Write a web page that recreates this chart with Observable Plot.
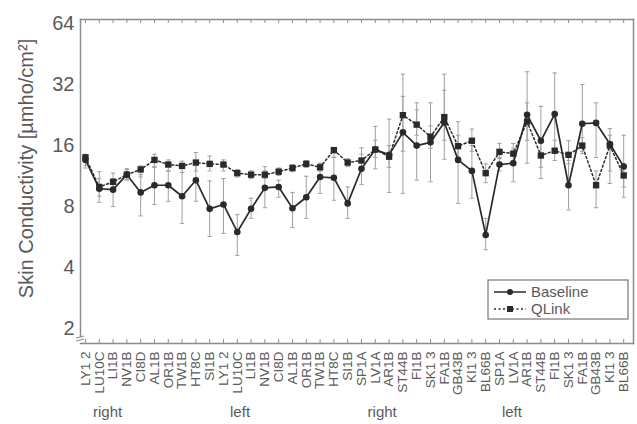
<!DOCTYPE html>
<html>
<head>
<meta charset="utf-8">
<script src="https://cdn.jsdelivr.net/npm/d3@7"></script>
<script src="https://cdn.jsdelivr.net/npm/@observablehq/plot@0.6"></script>
<style>
  html, body { margin: 0; padding: 0; background: #fff; }
  #chart { width: 637px; height: 424px; }
</style>
</head>
<body>
<div id="chart"></div>
<script>
const labels = ["LY1 2","LU10C","LI1B","NV1B","CI8D","AL1B","OR1B","TW1B","HT8C","SI1B",
  "LY1 2","LU10C","LI1B","NV1B","CI8D","AL1B","OR1B","TW1B","HT8C","SI1B",
  "SP1A","LV1A","AR1B","ST44B","FI1B","SK1 3","FA1B","GB43B","KI1 3","BL66B",
  "SP1A","LV1A","AR1B","ST44B","FI1B","SK1 3","FA1B","GB43B","KI1 3","BL66B"];

const baseline = [13.6,9.8,9.7,11.5,9.4,10.2,10.2,9.0,10.8,7.8,
  8.2,6.0,7.8,9.9,10.0,7.85,8.9,11.2,11.1,8.3,
  12.3,15.3,14.4,18.6,16.0,16.6,20.8,13.6,12.0,5.8,
  12.9,13.1,22.7,16.9,22.9,10.2,20.5,20.7,16.3,12.6];
const baselineLo = [12.4,8.4,8.0,10.8,7.2,8.2,8.5,6.6,8.5,5.7,
  5.9,4.6,7.0,7.9,8.9,6.3,7.0,9.3,8.6,7.0,
  10.3,12.3,9.4,9.3,10.8,10.6,13.7,8.3,8.8,4.9,
  12.0,10.6,13.1,11.0,14.6,7.7,14.6,14.0,12.0,8.9];
const baselineHi = [14.5,11.0,11.0,12.3,11.5,12.5,12.0,11.8,13.5,10.7,
  11.0,7.3,8.8,12.6,10.8,9.4,11.3,13.0,14.0,10.0,
  14.5,19.9,21.6,28.0,26.0,26.0,30.0,21.0,16.0,7.0,
  14.0,15.5,37.0,25.0,36.5,13.5,32.0,26.0,19.4,18.0];

const qlink = [14.0,10.0,10.6,11.5,12.2,13.6,12.9,12.7,13.2,13.0,
  12.9,11.7,11.5,11.5,11.9,12.4,13.0,12.5,15.2,13.2,
  13.5,15.3,14.1,22.6,20.3,17.7,22.1,15.9,16.9,11.7,
  14.9,14.6,21.0,14.3,15.1,14.4,16.0,10.2,16.0,11.4];
const qlinkLo = [12.8,9.0,9.8,10.9,11.2,12.6,12.0,11.8,12.0,12.0,
  12.0,11.2,11.0,11.0,11.4,11.9,12.5,12.0,14.0,12.6,
  12.6,14.0,12.5,15.0,18.0,15.5,17.0,14.0,15.0,10.5,
  13.8,13.5,17.0,12.5,13.5,13.0,15.0,7.9,10.4,10.0];
const qlinkHi = [14.3,11.9,11.7,12.2,12.7,14.5,13.6,13.4,14.8,14.2,
  13.6,12.2,12.0,12.0,12.4,12.9,13.5,13.1,15.6,13.8,
  15.6,17.0,16.0,36.0,24.0,20.0,36.0,18.0,19.3,13.0,
  16.4,16.4,26.0,16.5,17.0,16.9,17.5,12.0,18.0,13.0];

const yTicks = [2,4,8,16,32,64];
const groupNames = ["right","left","right","left"];
const groupPos = [1.6, 11.2, 21.5, 30.9];
const seriesNames = ["Baseline","QLink"];

const rows = labels.map((l, i) => ({
  i, label: l,
  b: baseline[i], bLo: baselineLo[i], bHi: baselineHi[i],
  q: qlink[i], qLo: qlinkLo[i], qHi: qlinkHi[i]
}));
const idx = labels.map((_, i) => i);

const ink = "#2a2a2a";
const barC = "#a0a0a0";
const frameC = "#8c8c8c";
const textC = "#5a5a5a";
const capW = 0.16;

const svg = Plot.plot({
  width: 637,
  height: 424,
  marginLeft: 80,
  marginRight: 4,
  marginTop: 19,
  marginBottom: 81,
  style: {fontFamily: "Liberation Sans, Arial, sans-serif", color: textC, background: "#fff"},
  x: {type: "linear", domain: [-0.36, 39.71], axis: null},
  y: {type: "log", domain: [1.69, 67], axis: null},
  marks: [
    // error bars
    Plot.ruleX(rows, {x: "i", y1: "bLo", y2: "bHi", stroke: barC, strokeWidth: 1}),
    Plot.ruleX(rows, {x: "i", y1: "qLo", y2: "qHi", stroke: barC, strokeWidth: 1}),
    Plot.link(rows, {x1: d => d.i - capW, x2: d => d.i + capW, y1: "bHi", y2: "bHi", stroke: barC}),
    Plot.link(rows, {x1: d => d.i - capW, x2: d => d.i + capW, y1: "bLo", y2: "bLo", stroke: barC}),
    Plot.link(rows, {x1: d => d.i - capW, x2: d => d.i + capW, y1: "qHi", y2: "qHi", stroke: barC}),
    Plot.link(rows, {x1: d => d.i - capW, x2: d => d.i + capW, y1: "qLo", y2: "qLo", stroke: barC}),
    // lines
    Plot.line(rows, {x: "i", y: "q", stroke: ink, strokeWidth: 1.5, strokeDasharray: "2,2.5"}),
    Plot.line(rows, {x: "i", y: "b", stroke: ink, strokeWidth: 1.7}),
    Plot.dot(rows, {x: "i", y: "q", symbol: "square", r: 3.6, fill: ink, stroke: "none"}),
    Plot.dot(rows, {x: "i", y: "b", symbol: "circle", r: 3.3, fill: ink, stroke: "none"}),
    // frame
    Plot.frame({anchor: "top", stroke: frameC, strokeWidth: 1.5}),
    Plot.frame({anchor: "right", stroke: frameC, strokeWidth: 1.5}),
    Plot.frame({anchor: "bottom", stroke: frameC, strokeWidth: 1.5}),
    Plot.frame({anchor: "left", stroke: frameC, strokeWidth: 1.5, insetBottom: 7}),
    // inward ticks
    Plot.ruleX(idx, {x: d => d, insetTop: 320, stroke: frameC, strokeWidth: 1}),
    Plot.ruleX(idx, {x: d => d, insetBottom: 320, stroke: frameC, strokeWidth: 1}),
    // x axis labels
    Plot.axisX({ticks: idx, tickFormat: i => labels[i], tickRotate: -90, tickSize: 0, tickPadding: 8, fontSize: 13.5, fill: textC, label: null}),
    // y tick labels
    Plot.text(yTicks, {y: d => d, frameAnchor: "left", dx: -6, textAnchor: "end", text: d => String(d), fontSize: 20, fill: textC}),
    // group labels
    Plot.text(groupNames, {x: (d, k) => groupPos[k], frameAnchor: "bottom", dy: 73, text: d => d, fontSize: 15, fill: textC}),
    // y title
    Plot.text(["Skin Conductivity [µmho/cm²]"], {frameAnchor: "left", dx: -54, dy: -13, rotate: -90, textAnchor: "middle", fontSize: 20, fill: textC})
  ]
});

// axis break marks and legend (layout decoration)
const s = d3.select(svg);
const brk = s.append("g").attr("stroke", frameC).attr("stroke-width", 1.2).attr("fill", "none");
brk.append("line").attr("x1", 76).attr("x2", 84).attr("y1", 338).attr("y2", 336);
brk.append("line").attr("x1", 76).attr("x2", 84).attr("y1", 341).attr("y2", 339);

const lg = s.append("g").attr("font-family", "Liberation Sans, Arial, sans-serif");
lg.append("rect").attr("x", 488).attr("y", 280).attr("width", 140).attr("height", 39)
  .attr("fill", "#fff").attr("stroke", "#777").attr("stroke-width", 1.2);
seriesNames.forEach((name, k) => {
  const yy = 292 + k * 17;
  lg.append("line").attr("x1", 494).attr("x2", 526).attr("y1", yy).attr("y2", yy)
    .attr("stroke", ink).attr("stroke-width", k === 0 ? 1.5 : 1.3)
    .attr("stroke-dasharray", k === 0 ? null : "2,2.5");
  if (k === 0) lg.append("circle").attr("cx", 510).attr("cy", yy).attr("r", 3).attr("fill", ink);
  else lg.append("rect").attr("x", 507).attr("y", yy - 3).attr("width", 6).attr("height", 6).attr("fill", ink);
  lg.append("text").attr("x", 531).attr("y", yy).attr("dy", "0.35em").attr("font-size", 15)
    .attr("text-anchor", "start").attr("fill", textC).text(name);
});

document.getElementById("chart").appendChild(svg);
</script>
</body>
</html>
